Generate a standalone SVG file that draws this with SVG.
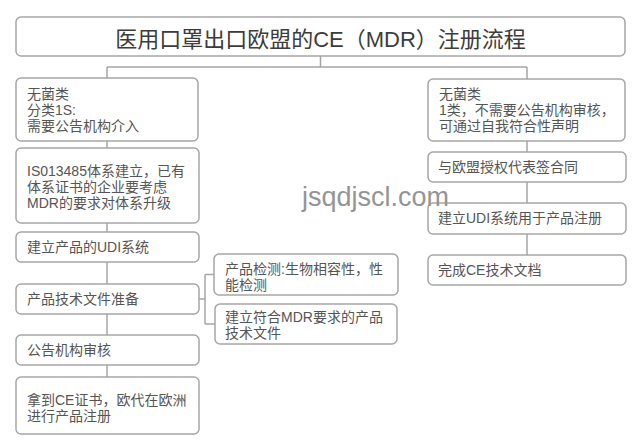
<svg xmlns="http://www.w3.org/2000/svg" width="641" height="447" viewBox="0 0 641 447">
<style>
.box{fill:#fff;stroke:#a6a6a6;stroke-width:1.5}
.t{font-family:"Liberation Sans","Noto Sans CJK SC",sans-serif;font-size:14px;fill:#555}
.title{font-family:"Liberation Sans","Noto Sans CJK SC",sans-serif;font-size:22px;fill:#3c3c3c}
.wm{font-family:"Liberation Sans",sans-serif;font-size:27px;fill:#959595}
.c{fill:none;stroke:#a6a6a6;stroke-width:1.5}
</style>
<rect width="641" height="447" fill="#fff"/>
<g id="connectors">
<path class="c" d="M320.5 56V67M107 67H527M107 67V78M527 67V79"/>
<path class="c" d="M107 141V148M107 223V232M107 262V284M107 314V335M107 365V377"/>
<path class="c" d="M527 141V152M527 182V203M527 234V255"/>
<path class="c" d="M199 299H205M205 274.5V324M205 274.5H214M205 324H215"/>
</g>
<g id="title">
<rect class="box" x="16" y="17" width="609" height="39" rx="5"/>
<text class="title" x="320.5" y="47" text-anchor="middle">医用口罩出口欧盟的CE（MDR）注册流程</text>
</g>
<g id="l1">
<rect class="box" x="16" y="78" width="182" height="63" rx="5"/>
<text class="t" x="27" y="99">无菌类</text>
<text class="t" x="27" y="115">分类1S:</text>
<text class="t" x="27" y="131">需要公告机构介入</text>
</g>
<g id="l2">
<rect class="box" x="16" y="148" width="183" height="75" rx="5"/>
<text class="t" x="27" y="176">IS013485体系建立，已有</text>
<text class="t" x="27" y="192">体系证书的企业要考虑</text>
<text class="t" x="27" y="208">MDR的要求对体系升级</text>
</g>
<g id="l3">
<rect class="box" x="16" y="232" width="183" height="30" rx="5"/>
<text class="t" x="27" y="252">建立产品的UDI系统</text>
</g>
<g id="l4">
<rect class="box" x="16" y="284" width="183" height="30" rx="5"/>
<text class="t" x="27" y="304">产品技术文件准备</text>
</g>
<g id="l5">
<rect class="box" x="16" y="335" width="183" height="30" rx="5"/>
<text class="t" x="27" y="355">公告机构审核</text>
</g>
<g id="l6">
<rect class="box" x="16" y="377" width="183" height="57" rx="5"/>
<text class="t" x="27" y="405">拿到CE证书，欧代在欧洲</text>
<text class="t" x="27" y="421">进行产品注册</text>
</g>
<g id="s1">
<rect class="box" x="214" y="254" width="184" height="41" rx="5"/>
<text class="t" x="225" y="274">产品检测:生物相容性，性</text>
<text class="t" x="225" y="290">能检测</text>
</g>
<g id="s2">
<rect class="box" x="215" y="304" width="182" height="40" rx="5"/>
<text class="t" x="225" y="322">建立符合MDR要求的产品</text>
<text class="t" x="225" y="338">技术文件</text>
</g>
<g id="r1">
<rect class="box" x="428" y="79" width="197" height="62" rx="5"/>
<text class="t" x="439" y="99">无菌类</text>
<text class="t" x="439" y="115">1类，不需要公告机构审核，</text>
<text class="t" x="439" y="131">可通过自我符合性声明</text>
</g>
<g id="r2">
<rect class="box" x="428" y="152" width="198" height="30" rx="5"/>
<text class="t" x="438" y="172">与欧盟授权代表签合同</text>
</g>
<g id="r3">
<rect class="box" x="428" y="203" width="198" height="31" rx="5"/>
<text class="t" x="438" y="223">建立UDI系统用于产品注册</text>
</g>
<g id="r4">
<rect class="box" x="428" y="255" width="198" height="30" rx="5"/>
<text class="t" x="438" y="275">完成CE技术文档</text>
</g>
<text class="wm" x="302" y="206">jsqdjscl.com</text>
</svg>
